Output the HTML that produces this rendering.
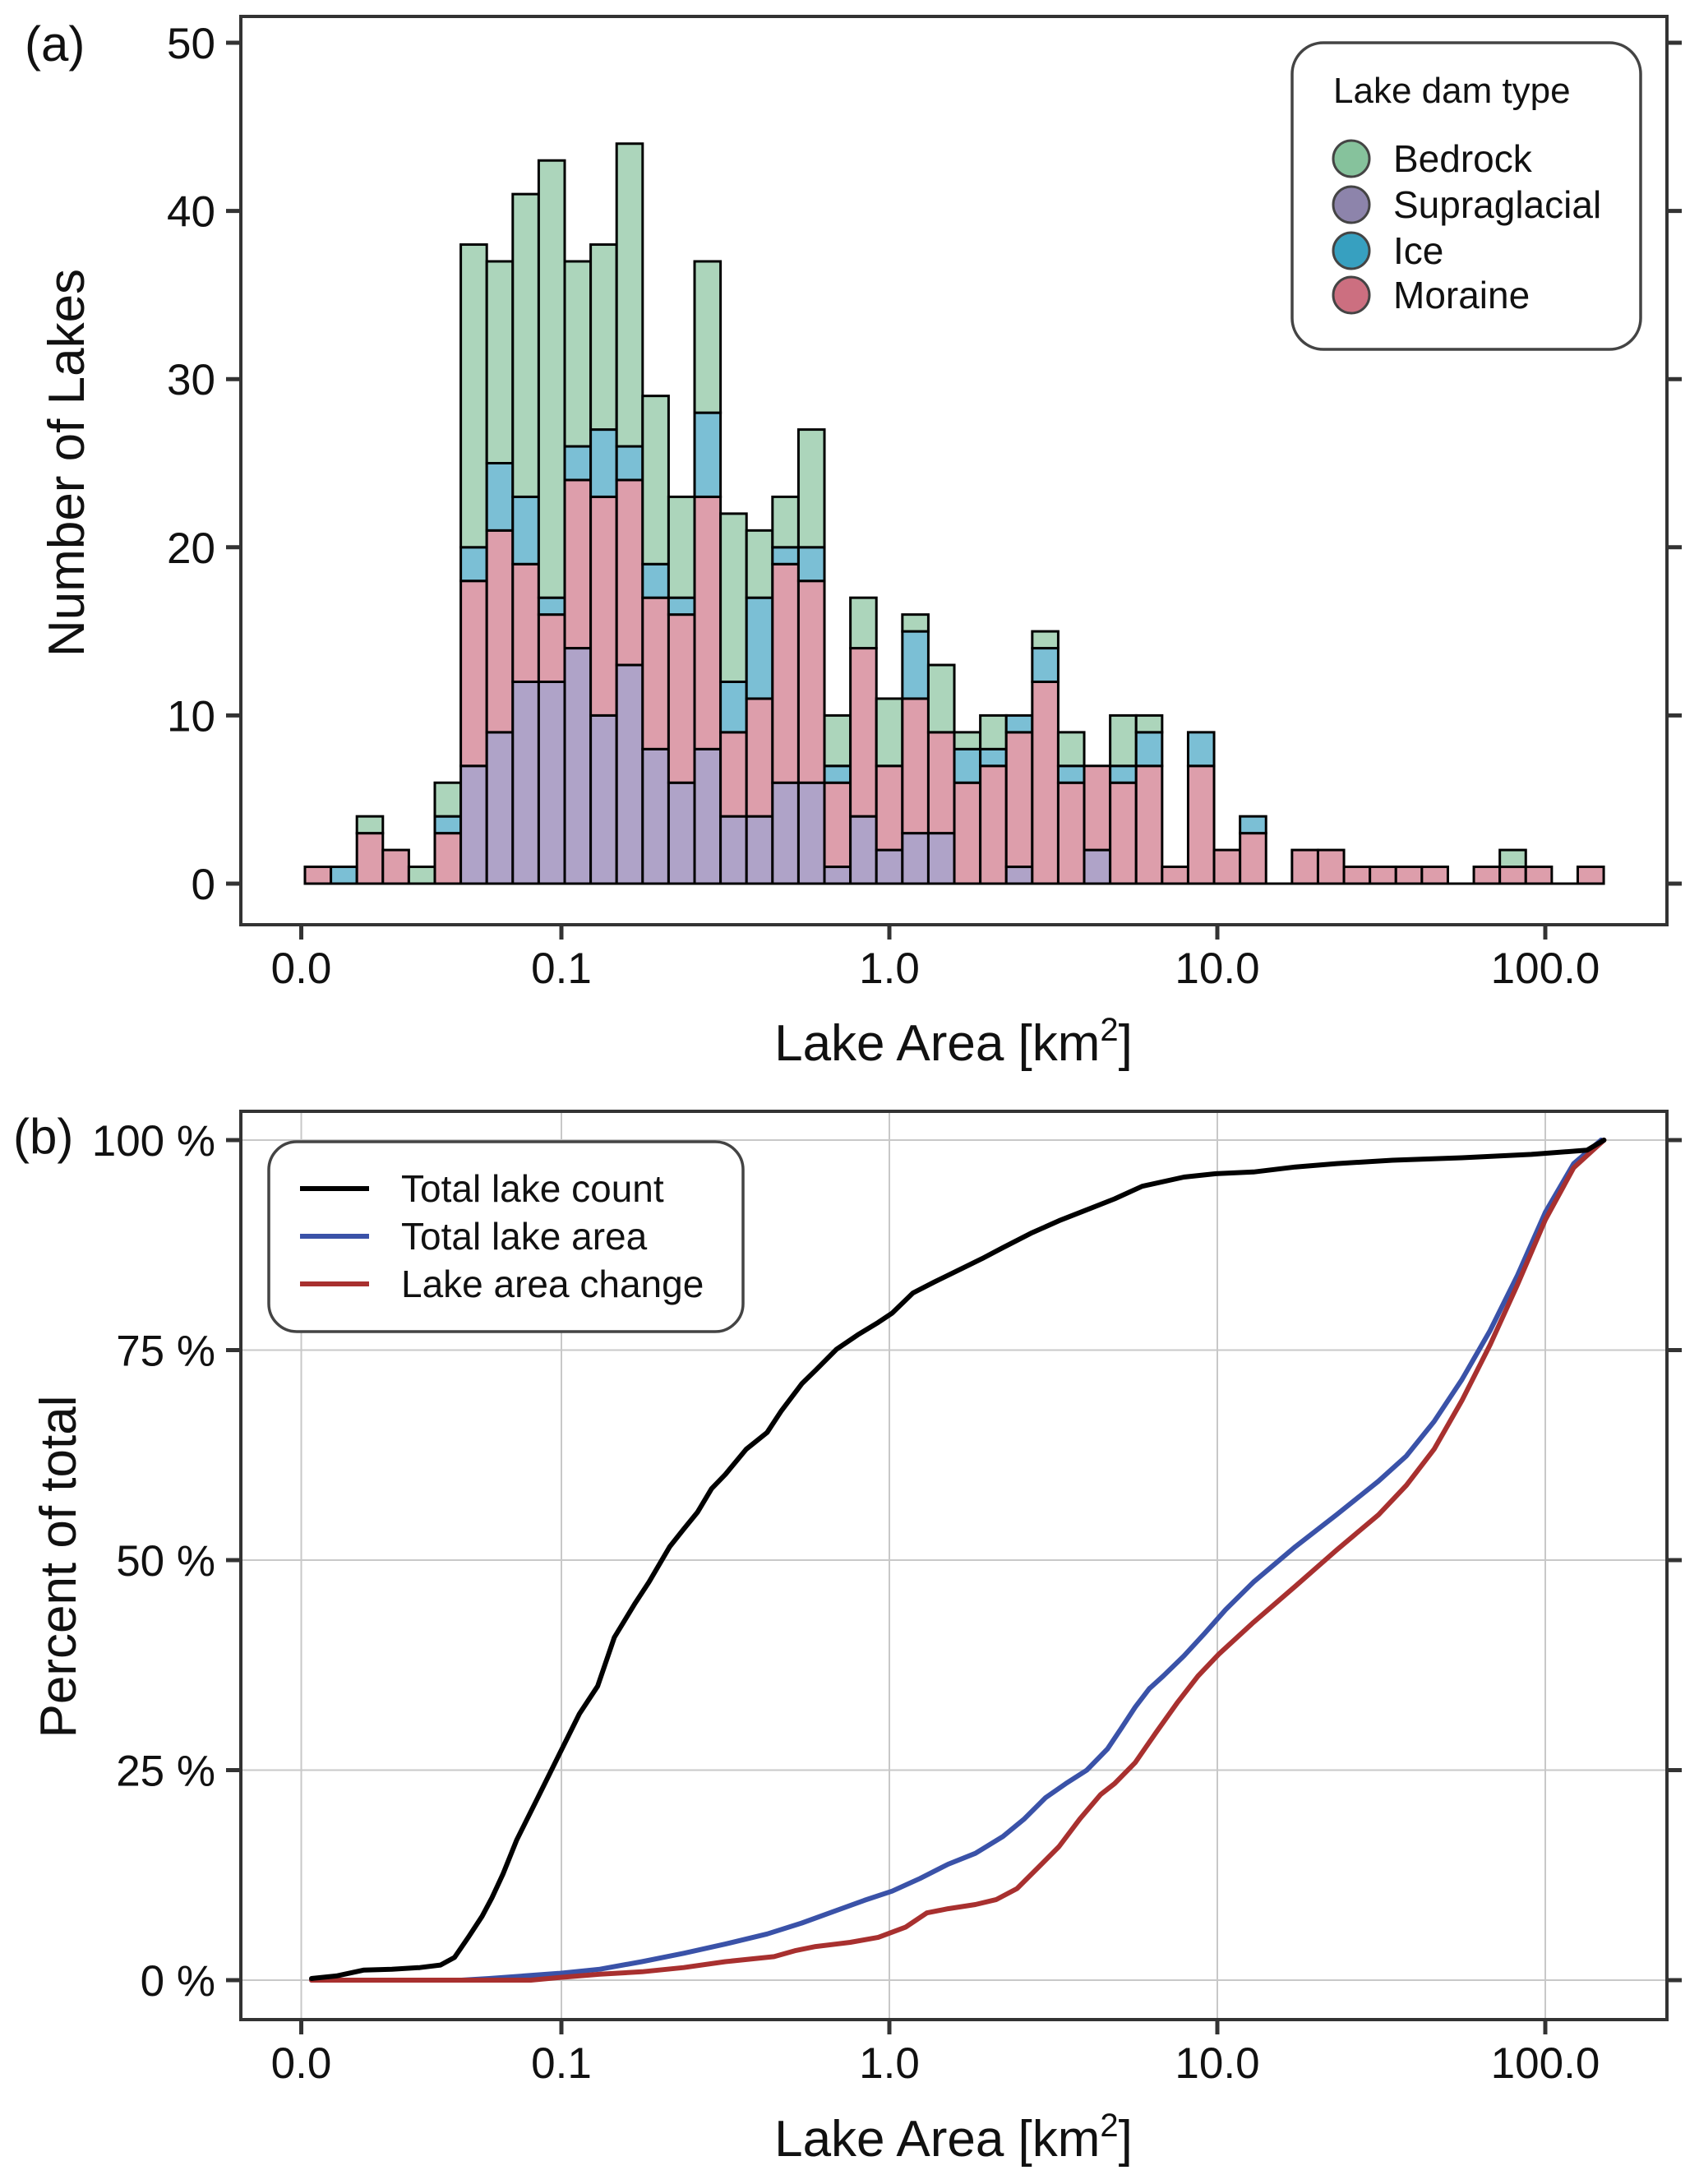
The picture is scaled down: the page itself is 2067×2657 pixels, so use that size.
<!DOCTYPE html>
<html><head><meta charset="utf-8">
<style>
html,body{margin:0;padding:0;background:#fff;}
svg{display:block;font-family:"Liberation Sans",Arial,sans-serif;}
</style></head>
<body>
<svg id="fig" width="2067" height="2657" viewBox="0 0 2067 2657" xmlns="http://www.w3.org/2000/svg">
<rect width="2067" height="2657" fill="#fff"/>
<g id="panelA"></g>
<g id="panelB"></g>
</svg>
<script>
// ---------- Panel (a) data: counts per log-spaced bin ----------
const binMin = 0.01652;
const binMax = 150.7;
const supraglacial = [0,0,0,0,0,0,7,9,12,12,14,10,13,8,6,8,4,4,6,6,1,4,2,3,3,0,0,1,0,0,2,0,0,0,0,0,0,0,0,0,0,0,0,0,0,0,0,0,0,0];
const moraine      = [1,0,3,2,0,3,11,12,7,4,10,13,11,9,10,15,5,7,13,12,5,10,5,8,6,6,7,8,12,6,5,6,7,1,7,2,3,0,2,2,1,1,1,1,0,1,1,1,0,1];
const ice          = [0,1,0,0,0,1,2,4,4,1,2,4,2,2,1,5,3,6,1,2,1,0,0,4,0,2,1,1,2,1,0,1,2,0,2,0,1,0,0,0,0,0,0,0,0,0,0,0,0,0];
const bedrock      = [0,0,1,0,1,2,18,12,18,26,11,11,18,10,6,9,10,4,3,7,3,3,4,1,4,1,2,0,1,2,0,3,1,0,0,0,0,0,0,0,0,0,0,0,0,0,1,0,0,0];
const yTicksA = [0,10,20,30,40,50];
const xTickVals = [0.0161,0.1,1,10,100];
const xTickLabels = ["0.0","0.1","1.0","10.0","100.0"];
// ---------- Panel (b) data ----------
const countArea = [0.0173,0.0206,0.025,0.0304,0.037,0.0428,0.0472,0.052,0.0573,0.0614,0.0663,0.0731,0.0847,0.098,0.1135,0.129,0.145,0.168,0.185,0.214,0.236,0.26,0.287,0.316,0.366,0.424,0.467,0.541,0.596,0.69,0.8,0.925,1.02,1.18,1.37,1.66,1.92,2.22,2.7,3.29,4.0,4.86,5.9,7.91,9.9,12.9,17.3,23.1,34.2,55.7,90.7,134,151];
const countPct  = [0.2,0.5,1.2,1.3,1.5,1.8,2.7,5.1,7.6,9.8,12.6,16.7,21.7,26.7,31.7,35.0,40.8,44.9,47.4,51.6,53.7,55.7,58.5,60.2,63.2,65.2,67.7,71.0,72.6,75.1,76.8,78.3,79.4,81.8,83.1,84.7,85.9,87.2,88.9,90.4,91.7,93.0,94.5,95.6,96.0,96.2,96.8,97.2,97.6,97.9,98.3,98.8,100];
const areaArea = [0.0173,0.0496,0.0602,0.098,0.131,0.176,0.236,0.316,0.424,0.541,0.69,0.839,1.02,1.24,1.51,1.83,2.22,2.58,2.99,3.45,4.0,4.62,5.1,5.62,6.2,6.84,7.91,9.16,10.6,12.9,17.3,23.1,31.0,37.7,45.8,55.7,67.8,82.3,100,122,148];
const areaPct  = [0,0,0.2,0.8,1.3,2.2,3.2,4.3,5.5,6.8,8.3,9.5,10.6,12.1,13.8,15.1,17.1,19.2,21.7,23.4,25.0,27.5,30.0,32.5,34.7,36.2,38.6,41.3,44.1,47.4,51.6,55.4,59.4,62.4,66.5,71.5,77.3,83.9,91.4,97.2,100];
const changeArea = [0.0173,0.0807,0.098,0.131,0.176,0.236,0.316,0.445,0.515,0.596,0.76,0.925,1.12,1.3,1.51,1.83,2.12,2.45,2.84,3.29,3.81,4.41,4.86,5.62,6.51,7.54,8.73,10.1,12.9,17.3,23.1,31.0,37.7,45.8,55.7,67.8,82.3,100,122,151];
const changePct  = [0,0,0.3,0.7,1.0,1.5,2.2,2.8,3.5,4.0,4.5,5.1,6.3,8.0,8.5,9.0,9.6,10.9,13.4,15.9,19.2,22.1,23.4,25.9,29.5,33.0,36.2,38.8,42.6,46.9,51.2,55.4,58.9,63.2,69.0,75.6,82.8,90.5,96.7,100];
const yTicksB = [0,25,50,75,100];

const NS="http://www.w3.org/2000/svg";
function mk(parent,tag,attrs){const el=document.createElementNS(NS,tag);for(const k in attrs)el.setAttribute(k,attrs[k]);parent.appendChild(el);return el;}
const X0=683, DEC=399;
function xs(v){return X0+(Math.log10(v)+1)*DEC;}
const L=293,R=2028;

// ===== Panel (a) =====
const gA=document.getElementById('panelA');
const T0=1075, TPX=(1075-52)/50;
function ya(v){return T0-v*TPX;}
const TT=20,TB=1125;
let e;
e=mk(gA,'rect',{x:L,y:TT,width:R-L,height:TB-TT,fill:'none',stroke:'#333',"stroke-width":4});


const colS='#afa3c8',colM='#dd9eab',colI='#7bbfd5',colB='#acd5bb';
const nb=supraglacial.length;
const lmin=Math.log10(binMin), lw=(Math.log10(binMax)-lmin)/nb;
const bars=mk(gA,'g',{});


e=mk(bars,'line',{x1:xs(binMin),x2:xs(binMax),y1:T0,y2:T0,stroke:'#000',"stroke-width":3});


for(let i=0;i<nb;i++){
  const x1=xs(Math.pow(10,lmin+i*lw)), x2=xs(Math.pow(10,lmin+(i+1)*lw));
  const series=[[supraglacial[i],colS,'supraglacial'],[moraine[i],colM,'moraine'],[ice[i],colI,'ice'],[bedrock[i],colB,'bedrock']];
  let c=0;
  for(const [v,col,nm] of series){
    if(v<=0) continue;
    e=mk(bars,'rect',{x:x1,y:ya(c+v),width:x2-x1,height:ya(c)-ya(c+v),fill:col,stroke:'#000',"stroke-width":3});
    
    
    c+=v;
  }
}
for(const t of yTicksA){
  const y=ya(t);
  e=mk(gA,'line',{x1:L-18,x2:L,y1:y,y2:y,stroke:'#333',"stroke-width":5});
  
  
  e=mk(gA,'line',{x1:R,x2:R+18,y1:y,y2:y,stroke:'#333',"stroke-width":5});
  
  
  e=mk(gA,'text',{x:262,y:y+19,"text-anchor":"end","font-size":53,fill:'#111'});
  e.textContent=t;
  
  
}
xTickVals.forEach((v,i)=>{
  const x=xs(v);
  e=mk(gA,'line',{x1:x,x2:x,y1:TB,y2:TB+18,stroke:'#333',"stroke-width":5});
  
  
  e=mk(gA,'text',{x:x,y:1196,"text-anchor":"middle","font-size":53,fill:'#111'});
  e.textContent=xTickLabels[i];
  
  
});
e=mk(gA,'text',{x:1160,y:1290,"text-anchor":"middle","font-size":62,fill:'#111'});
e.innerHTML='Lake Area [km<tspan font-size="40" dy="-24">2</tspan><tspan dy="24">]</tspan>';


e=mk(gA,'text',{x:0,y:0,"text-anchor":"middle","font-size":62,fill:'#111',transform:'translate(102,563) rotate(-90)'});
e.textContent='Number of Lakes';


e=mk(gA,'text',{x:30,y:74,"font-size":60,fill:'#111'});
e.textContent='(a)';


// legend a
const lg=mk(gA,'g',{});


e=mk(lg,'rect',{x:1572,y:52,width:424,height:373,rx:38,fill:'#fff',stroke:'#444',"stroke-width":3.5});


e=mk(lg,'text',{x:1622,y:125,"font-size":44,fill:'#111'});
e.textContent='Lake dam type';


const legA=[['Bedrock','#86c29c',193],['Supraglacial','#8d84ab',249],['Ice','#37a0c0',305],['Moraine','#cc6f80',359]];
for(const [nm,col,y] of legA){
  e=mk(lg,'circle',{cx:1644,cy:y,r:22,fill:col,stroke:'#444',"stroke-width":3});
  
  
  e=mk(lg,'text',{x:1695,y:y+16,"font-size":46,fill:'#111'});
  e.textContent=nm;
  
  
}

// ===== Panel (b) =====
const gB=document.getElementById('panelB');
const B0=2409, BPX=(2409-1387)/100;
function yb(p){return B0-p*BPX;}
const BT=1352,BB=2457;
xTickVals.forEach(v=>{
  e=mk(gB,'line',{x1:xs(v),x2:xs(v),y1:BT,y2:BB,stroke:'#c8c8c8',"stroke-width":2});
  
  
});
for(const t of yTicksB){
  e=mk(gB,'line',{x1:L,x2:R,y1:yb(t),y2:yb(t),stroke:'#c8c8c8',"stroke-width":2});
  
  
}
function curve(xsArr,ysArr,col,nm){
  let d='';
  for(let i=0;i<xsArr.length;i++){d+=(i?'L':'M')+xs(xsArr[i]).toFixed(1)+','+yb(ysArr[i]).toFixed(1);}
  const p=mk(gB,'path',{d:d,fill:'none',stroke:col,"stroke-width":6,"stroke-linejoin":"round","stroke-linecap":"round"});
  
  
}
curve(areaArea,areaPct,'#3a52a8','line-total-lake-area');
curve(changeArea,changePct,'#a8302f','line-lake-area-change');
curve(countArea,countPct,'#000','line-total-lake-count');
e=mk(gB,'rect',{x:L,y:BT,width:R-L,height:BB-BT,fill:'none',stroke:'#333',"stroke-width":4});


for(const t of yTicksB){
  const y=yb(t);
  e=mk(gB,'line',{x1:L-18,x2:L,y1:y,y2:y,stroke:'#333',"stroke-width":5});
  
  
  e=mk(gB,'line',{x1:R,x2:R+18,y1:y,y2:y,stroke:'#333',"stroke-width":5});
  
  
  e=mk(gB,'text',{x:262,y:y+19,"text-anchor":"end","font-size":53,fill:'#111'});
  e.textContent=t+' %';
  
  
}
xTickVals.forEach((v,i)=>{
  const x=xs(v);
  e=mk(gB,'line',{x1:x,x2:x,y1:BB,y2:BB+18,stroke:'#333',"stroke-width":5});
  
  
  e=mk(gB,'text',{x:x,y:2528,"text-anchor":"middle","font-size":53,fill:'#111'});
  e.textContent=xTickLabels[i];
  
  
});
e=mk(gB,'text',{x:1160,y:2623,"text-anchor":"middle","font-size":62,fill:'#111'});
e.innerHTML='Lake Area [km<tspan font-size="40" dy="-24">2</tspan><tspan dy="24">]</tspan>';


e=mk(gB,'text',{x:0,y:0,"text-anchor":"middle","font-size":62,fill:'#111',transform:'translate(92,1906) rotate(-90)'});
e.textContent='Percent of total';


e=mk(gB,'text',{x:16,y:1403,"font-size":60,fill:'#111'});
e.textContent='(b)';


const lb=mk(gB,'g',{});


e=mk(lb,'rect',{x:327,y:1389,width:577,height:231,rx:34,fill:'#fff',stroke:'#444',"stroke-width":3.5});


const legB=[['Total lake count','#000',1446],['Total lake area','#3a52a8',1504],['Lake area change','#a8302f',1562]];
for(const [nm,col,y] of legB){
  e=mk(lb,'line',{x1:365,x2:449,y1:y,y2:y,stroke:col,"stroke-width":6});
  
  
  e=mk(lb,'text',{x:488,y:y+16,"font-size":46,fill:'#111'});
  e.textContent=nm;
  
  
}
</script>
</body></html>
